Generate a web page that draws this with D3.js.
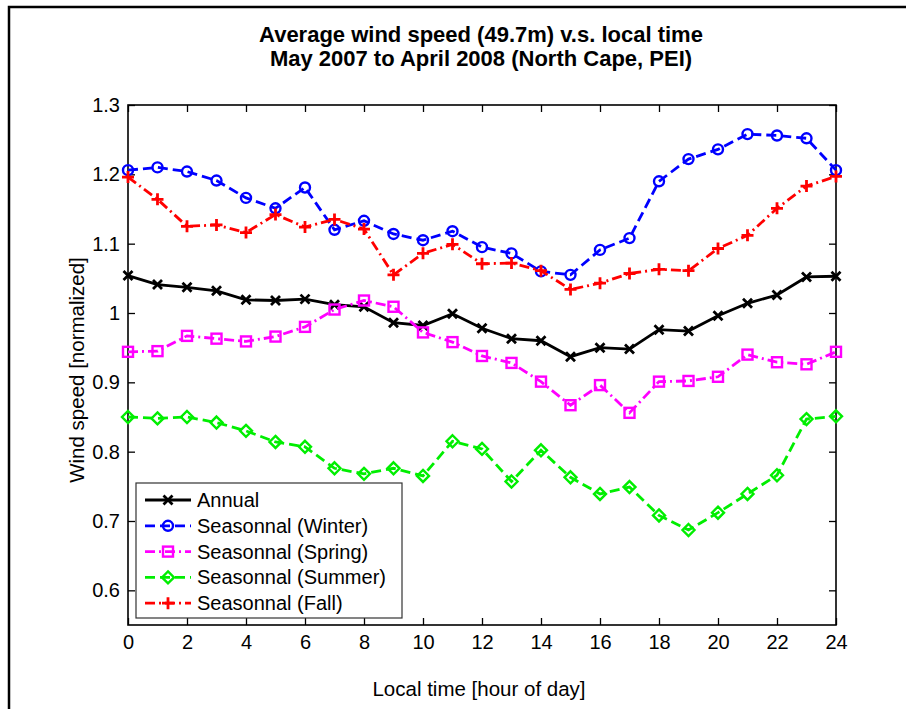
<!DOCTYPE html>
<html>
<head>
<meta charset="utf-8">
<script src="https://cdn.jsdelivr.net/npm/d3@7"></script>
<style>
body{margin:0;background:#fff;}
svg{display:block;font-family:"Liberation Sans",Arial,sans-serif;}
</style>
</head>
<body>
<svg id="chart" width="906" height="709"></svg>
<script>
const hours = d3.range(0, 25);
const annual = [1.054,1.041,1.037,1.032,1.019,1.018,1.020,1.012,1.009,0.986,0.982,0.999,0.978,0.963,0.960,0.937,0.950,0.948,0.976,0.974,0.996,1.014,1.026,1.052,1.053];
const winter = [1.206,1.210,1.204,1.191,1.166,1.151,1.181,1.120,1.133,1.114,1.105,1.118,1.095,1.086,1.060,1.055,1.091,1.108,1.190,1.222,1.236,1.258,1.256,1.252,1.206];
const spring = [0.944,0.945,0.967,0.963,0.959,0.966,0.980,1.005,1.018,1.009,0.972,0.958,0.938,0.928,0.901,0.867,0.896,0.856,0.901,0.902,0.908,0.940,0.929,0.926,0.944];
const summer = [0.850,0.848,0.850,0.842,0.830,0.814,0.807,0.776,0.768,0.776,0.765,0.815,0.804,0.757,0.802,0.763,0.739,0.749,0.708,0.687,0.712,0.739,0.766,0.847,0.851];
const fall   = [1.196,1.164,1.125,1.127,1.116,1.142,1.124,1.135,1.121,1.055,1.086,1.099,1.071,1.072,1.061,1.034,1.043,1.057,1.063,1.061,1.093,1.112,1.151,1.183,1.197];
const seriesNames = ["Annual","Seasonnal (Winter)","Seasonnal (Spring)","Seasonnal (Summer)","Seasonnal (Fall)"];
const xTicks = d3.range(0, 25, 2);
const yTicks = [0.6,0.7,0.8,0.9,1.0,1.1,1.2,1.3];
const titleLines = ["Average wind speed (49.7m) v.s. local time","May 2007 to April 2008 (North Cape, PEI)"];

const series = [
  {name: seriesNames[0], values: annual, color: "#000000", dash: null, marker: "x"},
  {name: seriesNames[1], values: winter, color: "#0000ff", dash: "10,5", marker: "o"},
  {name: seriesNames[2], values: spring, color: "#ff00ff", dash: "10,4,2,4", marker: "s"},
  {name: seriesNames[3], values: summer, color: "#00ee00", dash: "10,5", marker: "d"},
  {name: seriesNames[4], values: fall,   color: "#ff0000", dash: "10,4,2,4", marker: "+"}
];

const svg = d3.select("#chart");
const L = 128, R = 836, T = 105, B = 625;
const x = d3.scaleLinear().domain([0, 24]).range([L, R]);
const y = d3.scaleLinear().domain([0.55, 1.3]).range([B, T]);

// figure border
svg.append("rect").attr("x", 9).attr("y", 7).attr("width", 1000).attr("height", 1000)
  .attr("fill", "none").attr("stroke", "#000").attr("stroke-width", 2.5);

// title
titleLines.forEach((t, i) => {
  svg.append("text").attr("x", 481).attr("y", 42 + i * 24).attr("text-anchor", "middle")
    .attr("font-size", 22).attr("font-weight", "bold").text(t);
});

// axes
const tl = 7;
const FS = 20;
svg.append("g").attr("transform", `translate(0,${B})`)
  .call(d3.axisBottom(x).tickValues(xTicks).tickSize(-tl).tickPadding(10).tickFormat(d3.format("d")))
  .call(g => { g.select(".domain").remove(); g.selectAll("text").attr("font-size", FS).attr("font-family", "Liberation Sans, Arial, sans-serif"); });
svg.append("g").attr("transform", `translate(0,${T})`)
  .call(d3.axisTop(x).tickValues(xTicks).tickSize(-tl).tickFormat(""))
  .call(g => g.select(".domain").remove());
svg.append("g").attr("transform", `translate(${L},0)`)
  .call(d3.axisLeft(y).tickValues(yTicks).tickSize(-tl).tickPadding(8).tickFormat(d => d === 1 ? "1" : d3.format(".1f")(d)))
  .call(g => { g.select(".domain").remove(); g.selectAll("text").attr("font-size", FS).attr("font-family", "Liberation Sans, Arial, sans-serif"); });
svg.append("g").attr("transform", `translate(${R},0)`)
  .call(d3.axisRight(y).tickValues(yTicks).tickSize(-tl).tickFormat(""))
  .call(g => g.select(".domain").remove());
svg.selectAll(".tick line").attr("stroke", "#000").attr("stroke-width", 1.3);

svg.append("rect").attr("x", L).attr("y", T).attr("width", R - L).attr("height", B - T)
  .attr("fill", "none").attr("stroke", "#000").attr("stroke-width", 1.6);

// axis labels
svg.append("text").attr("x", 479).attr("y", 696).attr("text-anchor", "middle").attr("font-size", 20.5)
  .text("Local time [hour of day]");
svg.append("text").attr("transform", `translate(84,${(T + B) / 2 + 5}) rotate(-90)`).attr("text-anchor", "middle")
  .attr("font-size", 20.5).text("Wind speed [normalized]");

function drawMarker(g, type, cx, cy, color) {
  const sw = 2.4;
  if (type === "o") {
    g.append("circle").attr("cx", cx).attr("cy", cy).attr("r", 5).attr("fill", "none").attr("stroke", color).attr("stroke-width", sw);
  } else if (type === "s") {
    g.append("rect").attr("x", cx - 5).attr("y", cy - 5).attr("width", 10).attr("height", 10).attr("fill", "none").attr("stroke", color).attr("stroke-width", sw);
  } else if (type === "d") {
    const s = 6;
    g.append("path").attr("d", `M${cx},${cy - s}L${cx + s},${cy}L${cx},${cy + s}L${cx - s},${cy}Z`).attr("fill", "none").attr("stroke", color).attr("stroke-width", sw);
  } else if (type === "+") {
    const s = 6;
    g.append("path").attr("d", `M${cx - s},${cy}L${cx + s},${cy}M${cx},${cy - s}L${cx},${cy + s}`).attr("stroke", color).attr("stroke-width", 2.8);
  } else if (type === "x") {
    const s = 4.5;
    g.append("path").attr("d", `M${cx - s},${cy - s}L${cx + s},${cy + s}M${cx - s},${cy + s}L${cx + s},${cy - s}`).attr("stroke", color).attr("stroke-width", 2.8);
  }
}

const line = d3.line().x((d, i) => x(hours[i])).y(d => y(d));
const plot = svg.append("g");
series.forEach(s => {
  plot.append("path").datum(s.values).attr("d", line).attr("fill", "none").attr("stroke", s.color)
    .attr("stroke-width", 2.8).attr("stroke-dasharray", s.dash);
  const mg = plot.append("g");
  s.values.forEach((v, i) => drawMarker(mg, s.marker, x(hours[i]), y(v), s.color));
});

// legend
const lg = svg.append("g");
lg.append("rect").attr("x", 136).attr("y", 483).attr("width", 266).attr("height", 135)
  .attr("fill", "#fff").attr("stroke", "#333").attr("stroke-width", 1.2);
series.forEach((s, i) => {
  const ly = 500 + i * 25.8;
  lg.append("line").attr("x1", 145).attr("x2", 191).attr("y1", ly).attr("y2", ly)
    .attr("stroke", s.color).attr("stroke-width", 2.8).attr("stroke-dasharray", s.dash);
  drawMarker(lg, s.marker, 168, ly, s.color);
  lg.append("text").attr("x", 197).attr("y", ly + 7).attr("font-size", 20).text(s.name);
});
</script>
</body>
</html>
